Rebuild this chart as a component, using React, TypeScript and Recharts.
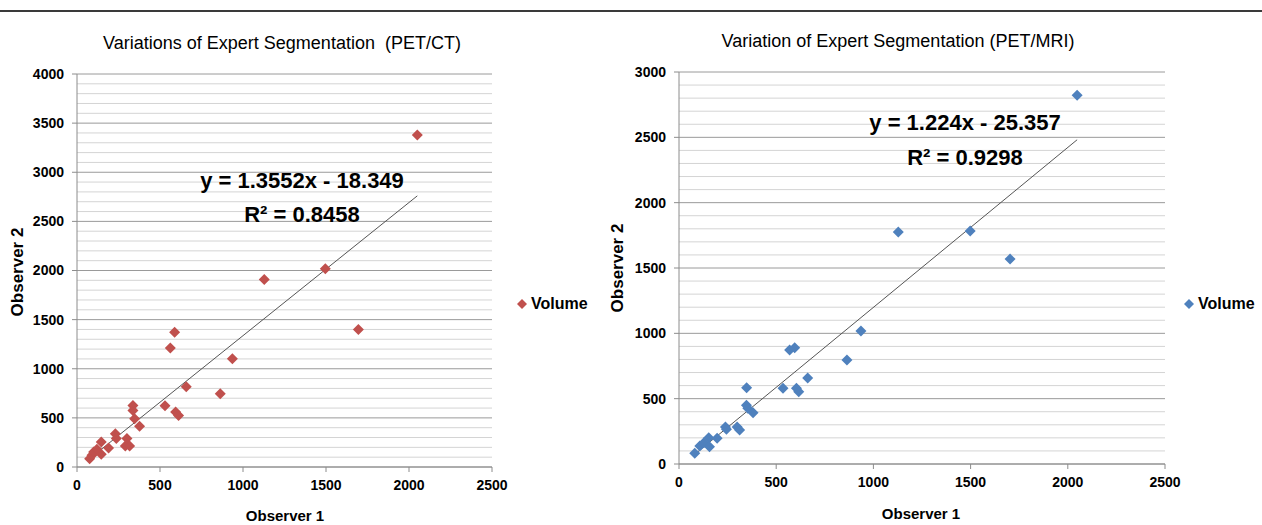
import React from 'react';
import { ScatterChart, Scatter, XAxis, YAxis, CartesianGrid, ReferenceLine } from 'recharts';

const FONT = '"Liberation Sans", Arial, sans-serif';

// PET/CT data (Observer 1 vs Observer 2 volumes)
const ctObs1 = [76, 90, 100, 120, 146, 146, 190, 231, 237, 291, 301, 317, 337, 337, 347, 377, 530, 562, 588, 594, 612, 658, 863, 936, 1128, 1496, 1695, 2050];
const ctObs2 = [85, 120, 152, 180, 254, 129, 193, 339, 289, 214, 289, 214, 627, 576, 492, 414, 624, 1210, 1372, 559, 525, 817, 746, 1101, 1908, 2019, 1399, 3380];

// PET/MRI data
const mriObs1 = [81, 107, 128, 153, 157, 196, 239, 244, 299, 312, 347, 348, 354, 381, 535, 569, 595, 604, 616, 662, 864, 936, 1128, 1498, 1703, 2048];
const mriObs2 = [82, 138, 163, 201, 132, 197, 283, 265, 283, 260, 449, 584, 426, 393, 579, 872, 890, 579, 553, 658, 796, 1018, 1775, 1783, 1568, 2823];

const ctSlope = 1.3552;
const ctIntercept = -18.349;
const ctR2 = '0.8458';
const mriSlope = 1.224;
const mriIntercept = -25.357;
const mriR2 = '0.9298';

const xTicks = [0, 500, 1000, 1500, 2000, 2500];
const ctYTicks = [0, 500, 1000, 1500, 2000, 2500, 3000, 3500, 4000];
const mriYTicks = [0, 500, 1000, 1500, 2000, 2500, 3000];

const ctTitle = 'Variations of Expert Segmentation  (PET/CT)';
const mriTitle = 'Variation of Expert Segmentation (PET/MRI)';
const seriesName = 'Volume';
const xLabel = 'Observer 1';
const yLabel = 'Observer 2';

const CT_COLOR = '#C0504D';
const MRI_COLOR = '#4F81BD';

const minorValues = (max: number) => {
  const v: number[] = [];
  for (let i = 100; i <= max; i += 100) if (i % 500 !== 0) v.push(i);
  return v;
};

const makeDiamond = (color: string) => (props: any) => {
  const { cx, cy } = props;
  const r = 5.5;
  return <path d={`M${cx},${cy - r}L${cx + r},${cy}L${cx},${cy + r}L${cx - r},${cy}Z`} fill={color} />;
};

const tickStyle = { fontSize: 14, fontWeight: 700, fill: '#000', fontFamily: FONT };

type PanelProps = {
  left: number;
  width: number;
  yWidth: number;
  top: number;
  right: number;
  bottom: number;
  obs1: number[];
  obs2: number[];
  slope: number;
  intercept: number;
  yTicks: number[];
  color: string;
};

const Panel = (p: PanelProps) => {
  const data = p.obs1.map((x, i) => ({ x, y: p.obs2[i] }));
  const xs = p.obs1;
  const xmin = Math.min(...xs);
  const xmax = Math.max(...xs);
  const yMax = p.yTicks[p.yTicks.length - 1];
  return (
    <div style={{ position: 'absolute', left: p.left, top: 0 }}>
      <ScatterChart width={p.width} height={525} margin={{ top: p.top, right: p.right, bottom: p.bottom, left: 0 }}>
        <CartesianGrid vertical={false} horizontalValues={minorValues(yMax)} stroke="#D4D4D4" strokeWidth={1} />
        <CartesianGrid vertical={false} stroke="#9A9A9A" strokeWidth={1} />
        <XAxis
          type="number"
          dataKey="x"
          domain={[0, 2500]}
          ticks={xTicks}
          height={30}
          tickSize={5}
          tickMargin={8}
          stroke="#8C8C8C"
          tick={tickStyle}
          interval={0}
        />
        <YAxis
          type="number"
          dataKey="y"
          domain={[0, yMax]}
          ticks={p.yTicks}
          width={p.yWidth}
          tickSize={5}
          tickMargin={8}
          stroke="#8C8C8C"
          tick={tickStyle}
          interval={0}
        />
        <ReferenceLine
          segment={[
            { x: xmin, y: p.slope * xmin + p.intercept },
            { x: xmax, y: p.slope * xmax + p.intercept },
          ]}
          stroke="#555"
          strokeWidth={1}
          ifOverflow="visible"
        />
        <Scatter data={data} shape={makeDiamond(p.color)} isAnimationActive={false} />
      </ScatterChart>
    </div>
  );
};

const Txt = ({ x, y, size, bold, children, rotate }: any) => (
  <div
    style={{
      position: 'absolute',
      left: x,
      top: y,
      transform: `translate(-50%, -50%)${rotate ? ' rotate(-90deg)' : ''}`,
      fontFamily: FONT,
      fontSize: size,
      fontWeight: bold ? 700 : 400,
      whiteSpace: 'pre',
      lineHeight: 1,
      color: '#000',
    }}
  >
    {children}
  </div>
);

const LegendItem = ({ x, y, color }: any) => (
  <div style={{ position: 'absolute', left: x, top: y, display: 'flex', alignItems: 'center', fontFamily: FONT, fontSize: 16, fontWeight: 700, lineHeight: 1 }}>
    <svg width={10} height={10} style={{ marginRight: 4 }}>
      <path d="M5,0L10,5L5,10L0,5Z" fill={color} />
    </svg>
    <span>{seriesName}</span>
  </div>
);

export default function App() {
  return (
    <div style={{ position: 'absolute', left: 0, top: 0, width: 1262, height: 525, background: '#fff', overflow: 'hidden' }}>
      <div style={{ position: 'absolute', left: 0, top: 10, width: 1262, height: 2, background: '#3a3a3a' }} />
      <Panel
        left={0}
        width={620}
        yWidth={77}
        top={74}
        right={128}
        bottom={28}
        obs1={ctObs1}
        obs2={ctObs2}
        slope={ctSlope}
        intercept={ctIntercept}
        yTicks={ctYTicks}
        color={CT_COLOR}
      />
      <Panel
        left={600}
        width={662}
        yWidth={79}
        top={72}
        right={97}
        bottom={31}
        obs1={mriObs1}
        obs2={mriObs2}
        slope={mriSlope}
        intercept={mriIntercept}
        yTicks={mriYTicks}
        color={MRI_COLOR}
      />
      <Txt x={282} y={43} size={18}>{ctTitle}</Txt>
      <Txt x={898} y={41} size={18}>{mriTitle}</Txt>
      <Txt x={302} y={181} size={22} bold>{`y = ${ctSlope}x - ${Math.abs(ctIntercept)}`}</Txt>
      <Txt x={302} y={215} size={22} bold>{`R² = ${ctR2}`}</Txt>
      <Txt x={965} y={123} size={22} bold>{`y = ${mriSlope}x - ${Math.abs(mriIntercept)}`}</Txt>
      <Txt x={965} y={158} size={22} bold>{`R² = ${mriR2}`}</Txt>
      <Txt x={285} y={515} size={15} bold>{xLabel}</Txt>
      <Txt x={921} y={513} size={15} bold>{xLabel}</Txt>
      <Txt x={17} y={272} size={17} bold rotate>{yLabel}</Txt>
      <Txt x={617} y={268} size={17} bold rotate>{yLabel}</Txt>
      <LegendItem x={517} y={296} color={CT_COLOR} />
      <LegendItem x={1184} y={296} color={MRI_COLOR} />
    </div>
  );
}
